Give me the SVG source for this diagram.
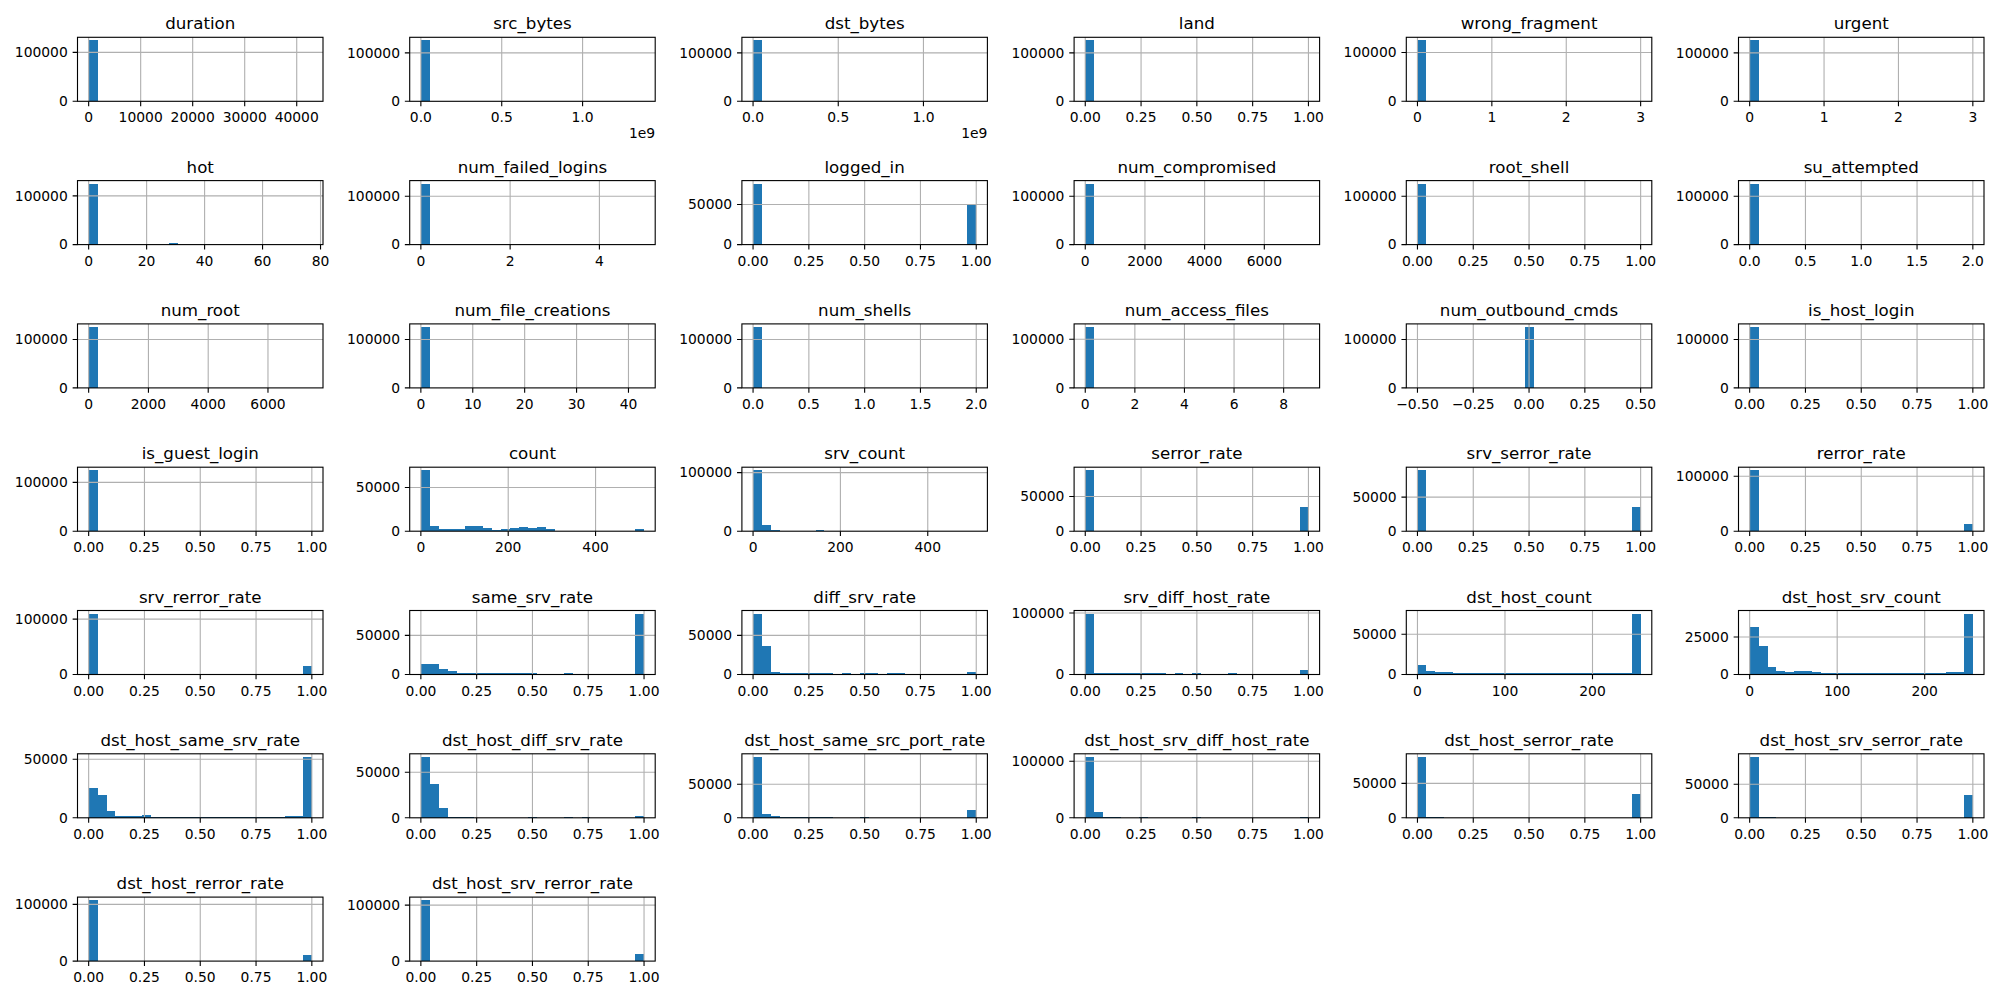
<svg xmlns="http://www.w3.org/2000/svg" xmlns:xlink="http://www.w3.org/1999/xlink" width="2000" height="1000" viewBox="0 0 2000 1000">
<style>
.b{fill:#1f77b4;shape-rendering:crispEdges}
.g{fill:none;stroke:#b0b0b0;stroke-width:1.11}
.f{fill:none;stroke:#000;stroke-width:1.11}
.k{fill:none;stroke:#000;stroke-width:1.11}
text{font-family:"DejaVu Sans","Liberation Sans",sans-serif;fill:#000}
.x{font-size:13.89px;text-anchor:middle}
.y{font-size:13.89px;text-anchor:end}
.t{font-size:16.67px;text-anchor:middle}
</style>
<defs>
<rect id="fr" class="f" width="245.5" height="64"/>
<g id="xr"><path class="g" d="M11.16 0V64M66.96 0V64M122.75 0V64M178.55 0V64M234.34 0V64"/><path class="k" d="M11.16 64v4.86M66.96 64v4.86M122.75 64v4.86M178.55 64v4.86M234.34 64v4.86"/></g>
<g id="x3"><path class="g" d="M11.16 0V64M85.55 0V64M159.95 0V64M234.34 0V64"/><path class="k" d="M11.16 64v4.86M85.55 64v4.86M159.95 64v4.86M234.34 64v4.86"/></g>
<g id="xc"><path class="g" d="M11.16 0V64M98.51 0V64M185.86 0V64"/><path class="k" d="M11.16 64v4.86M98.51 64v4.86M185.86 64v4.86"/></g>
<g id="xd"><path class="g" d="M11.16 0V64M98.68 0V64M186.2 0V64"/><path class="k" d="M11.16 64v4.86M98.68 64v4.86M186.2 64v4.86"/></g>
</defs>
<rect width="2000" height="1000" fill="#fff"/>

<g id="connectors"></g>

<!-- Row 0 -->
<g id="h-duration" transform="translate(77.5,37.3)">
<g class="b" transform="translate(11.16,64) scale(8.9272,-60.95)"><rect width="1" height="1"/></g>
<path class="g" d="M11.16 0V64M63.17 0V64M115.19 0V64M167.2 0V64M219.22 0V64M0 15.04H245.5"/>
<use href="#fr"/>
<path class="k" d="M11.16 64v4.86M63.17 64v4.86M115.19 64v4.86M167.2 64v4.86M219.22 64v4.86M-4.86 15.04H0M-4.86 64H0"/>
<text class="y" x="-9.72" y="19.84">100000</text><text class="y" x="-9.72" y="68.8">0</text>
<text class="x" x="11.16" y="85">0</text><text class="x" x="63.17" y="85">10000</text><text class="x" x="115.19" y="85">20000</text><text class="x" x="167.2" y="85">30000</text><text class="x" x="219.22" y="85">40000</text>
<text class="t" x="122.75" y="-8">duration</text>
</g>

<g id="h-src_bytes" transform="translate(409.7,37.3)">
<g class="b" transform="translate(11.16,64) scale(8.9272,-60.95)"><rect width="1" height="1"/></g>
<path class="g" d="M11.16 0V64M92.03 0V64M172.89 0V64M0 15.61H245.5"/>
<use href="#fr"/>
<path class="k" d="M11.16 64v4.86M92.03 64v4.86M172.89 64v4.86M-4.86 15.61H0M-4.86 64H0"/>
<text class="y" x="-9.72" y="20.41">100000</text><text class="y" x="-9.72" y="68.8">0</text>
<text class="x" x="11.16" y="85">0.0</text><text class="x" x="92.03" y="85">0.5</text><text class="x" x="172.89" y="85">1.0</text>
<text class="y" x="245.5" y="101">1e9</text>
<text class="t" x="122.75" y="-8">src_bytes</text>
</g>

<g id="h-dst_bytes" transform="translate(741.9,37.3)">
<g class="b" transform="translate(11.16,64) scale(8.9272,-60.95)"><rect width="1" height="1"/></g>
<path class="g" d="M11.16 0V64M96.35 0V64M181.54 0V64M0 15.61H245.5"/>
<use href="#fr"/>
<path class="k" d="M11.16 64v4.86M96.35 64v4.86M181.54 64v4.86M-4.86 15.61H0M-4.86 64H0"/>
<text class="y" x="-9.72" y="20.41">100000</text><text class="y" x="-9.72" y="68.8">0</text>
<text class="x" x="11.16" y="85">0.0</text><text class="x" x="96.35" y="85">0.5</text><text class="x" x="181.54" y="85">1.0</text>
<text class="y" x="245.5" y="101">1e9</text>
<text class="t" x="122.75" y="-8">dst_bytes</text>
</g>

<g id="h-land" transform="translate(1074.1,37.3)">
<g class="b" transform="translate(11.16,64) scale(8.9272,-60.95)"><rect width="1" height="1"/></g>
<use href="#xr"/><path class="g" d="M0 15.61H245.5"/>
<use href="#fr"/>
<path class="k" d="M-4.86 15.61H0M-4.86 64H0"/>
<text class="y" x="-9.72" y="20.41">100000</text><text class="y" x="-9.72" y="68.8">0</text>
<text class="x" x="11.16" y="85">0.00</text><text class="x" x="66.96" y="85">0.25</text><text class="x" x="122.75" y="85">0.50</text><text class="x" x="178.55" y="85">0.75</text><text class="x" x="234.34" y="85">1.00</text>
<text class="t" x="122.75" y="-8">land</text>
</g>

<g id="h-wrong_fragment" transform="translate(1406.3,37.3)">
<g class="b" transform="translate(11.16,64) scale(8.9272,-60.95)"><rect width="1" height="1"/></g>
<use href="#x3"/><path class="g" d="M0 15.24H245.5"/>
<use href="#fr"/>
<path class="k" d="M-4.86 15.24H0M-4.86 64H0"/>
<text class="y" x="-9.72" y="20.04">100000</text><text class="y" x="-9.72" y="68.8">0</text>
<text class="x" x="11.16" y="85">0</text><text class="x" x="85.55" y="85">1</text><text class="x" x="159.95" y="85">2</text><text class="x" x="234.34" y="85">3</text>
<text class="t" x="122.75" y="-8">wrong_fragment</text>
</g>

<g id="h-urgent" transform="translate(1738.5,37.3)">
<g class="b" transform="translate(11.16,64) scale(8.9272,-60.95)"><rect width="1" height="1"/></g>
<use href="#x3"/><path class="g" d="M0 15.61H245.5"/>
<use href="#fr"/>
<path class="k" d="M-4.86 15.61H0M-4.86 64H0"/>
<text class="y" x="-9.72" y="20.41">100000</text><text class="y" x="-9.72" y="68.8">0</text>
<text class="x" x="11.16" y="85">0</text><text class="x" x="85.55" y="85">1</text><text class="x" x="159.95" y="85">2</text><text class="x" x="234.34" y="85">3</text>
<text class="t" x="122.75" y="-8">urgent</text>
</g>

<!-- Row 1 -->
<g id="h-hot" transform="translate(77.5,180.6)">
<g class="b" transform="translate(11.16,64) scale(8.9272,-60.95)"><rect width="1" height="1"/><rect x="9" width="1" height="0.02"/></g>
<path class="g" d="M11.16 0V64M69.13 0V64M127.1 0V64M185.06 0V64M243.03 0V64M0 15.24H245.5"/>
<use href="#fr"/>
<path class="k" d="M11.16 64v4.86M69.13 64v4.86M127.1 64v4.86M185.06 64v4.86M243.03 64v4.86M-4.86 15.24H0M-4.86 64H0"/>
<text class="y" x="-9.72" y="20.04">100000</text><text class="y" x="-9.72" y="68.8">0</text>
<text class="x" x="11.16" y="85">0</text><text class="x" x="69.13" y="85">20</text><text class="x" x="127.1" y="85">40</text><text class="x" x="185.06" y="85">60</text><text class="x" x="243.03" y="85">80</text>
<text class="t" x="122.75" y="-8">hot</text>
</g>

<g id="h-num_failed_logins" transform="translate(409.7,180.6)">
<g class="b" transform="translate(11.16,64) scale(8.9272,-60.95)"><rect width="1" height="1"/></g>
<path class="g" d="M11.16 0V64M100.43 0V64M189.7 0V64M0 15.62H245.5"/>
<use href="#fr"/>
<path class="k" d="M11.16 64v4.86M100.43 64v4.86M189.7 64v4.86M-4.86 15.62H0M-4.86 64H0"/>
<text class="y" x="-9.72" y="20.42">100000</text><text class="y" x="-9.72" y="68.8">0</text>
<text class="x" x="11.16" y="85">0</text><text class="x" x="100.43" y="85">2</text><text class="x" x="189.7" y="85">4</text>
<text class="t" x="122.75" y="-8">num_failed_logins</text>
</g>

<g id="h-logged_in" transform="translate(741.9,180.6)">
<g class="b" transform="translate(11.16,64) scale(8.9272,-60.95)"><rect width="1" height="1"/><rect x="24" width="1" height="0.655"/></g>
<use href="#xr"/><path class="g" d="M0 23.96H245.5"/>
<use href="#fr"/>
<path class="k" d="M-4.86 23.96H0M-4.86 64H0"/>
<text class="y" x="-9.72" y="28.76">50000</text><text class="y" x="-9.72" y="68.8">0</text>
<text class="x" x="11.16" y="85">0.00</text><text class="x" x="66.96" y="85">0.25</text><text class="x" x="122.75" y="85">0.50</text><text class="x" x="178.55" y="85">0.75</text><text class="x" x="234.34" y="85">1.00</text>
<text class="t" x="122.75" y="-8">logged_in</text>
</g>

<g id="h-num_compromised" transform="translate(1074.1,180.6)">
<g class="b" transform="translate(11.16,64) scale(8.9272,-60.95)"><rect width="1" height="1"/></g>
<path class="g" d="M11.16 0V64M70.84 0V64M130.52 0V64M190.21 0V64M0 15.61H245.5"/>
<use href="#fr"/>
<path class="k" d="M11.16 64v4.86M70.84 64v4.86M130.52 64v4.86M190.21 64v4.86M-4.86 15.61H0M-4.86 64H0"/>
<text class="y" x="-9.72" y="20.41">100000</text><text class="y" x="-9.72" y="68.8">0</text>
<text class="x" x="11.16" y="85">0</text><text class="x" x="70.84" y="85">2000</text><text class="x" x="130.52" y="85">4000</text><text class="x" x="190.21" y="85">6000</text>
<text class="t" x="122.75" y="-8">num_compromised</text>
</g>

<g id="h-root_shell" transform="translate(1406.3,180.6)">
<g class="b" transform="translate(11.16,64) scale(8.9272,-60.95)"><rect width="1" height="1"/></g>
<use href="#xr"/><path class="g" d="M0 15.62H245.5"/>
<use href="#fr"/>
<path class="k" d="M-4.86 15.62H0M-4.86 64H0"/>
<text class="y" x="-9.72" y="20.42">100000</text><text class="y" x="-9.72" y="68.8">0</text>
<text class="x" x="11.16" y="85">0.00</text><text class="x" x="66.96" y="85">0.25</text><text class="x" x="122.75" y="85">0.50</text><text class="x" x="178.55" y="85">0.75</text><text class="x" x="234.34" y="85">1.00</text>
<text class="t" x="122.75" y="-8">root_shell</text>
</g>

<g id="h-su_attempted" transform="translate(1738.5,180.6)">
<g class="b" transform="translate(11.16,64) scale(8.9272,-60.95)"><rect width="1" height="1"/></g>
<use href="#xr"/><path class="g" d="M0 15.61H245.5"/>
<use href="#fr"/>
<path class="k" d="M-4.86 15.61H0M-4.86 64H0"/>
<text class="y" x="-9.72" y="20.41">100000</text><text class="y" x="-9.72" y="68.8">0</text>
<text class="x" x="11.16" y="85">0.0</text><text class="x" x="66.96" y="85">0.5</text><text class="x" x="122.75" y="85">1.0</text><text class="x" x="178.55" y="85">1.5</text><text class="x" x="234.34" y="85">2.0</text>
<text class="t" x="122.75" y="-8">su_attempted</text>
</g>

<!-- Row 2 -->
<g id="h-num_root" transform="translate(77.5,323.9)">
<g class="b" transform="translate(11.16,64) scale(8.9272,-60.95)"><rect width="1" height="1"/></g>
<path class="g" d="M11.16 0V64M70.93 0V64M130.7 0V64M190.47 0V64M0 15.61H245.5"/>
<use href="#fr"/>
<path class="k" d="M11.16 64v4.86M70.93 64v4.86M130.7 64v4.86M190.47 64v4.86M-4.86 15.61H0M-4.86 64H0"/>
<text class="y" x="-9.72" y="20.41">100000</text><text class="y" x="-9.72" y="68.8">0</text>
<text class="x" x="11.16" y="85">0</text><text class="x" x="70.93" y="85">2000</text><text class="x" x="130.7" y="85">4000</text><text class="x" x="190.47" y="85">6000</text>
<text class="t" x="122.75" y="-8">num_root</text>
</g>

<g id="h-num_file_creations" transform="translate(409.7,323.9)">
<g class="b" transform="translate(11.16,64) scale(8.9272,-60.95)"><rect width="1" height="1"/></g>
<path class="g" d="M11.16 0V64M63.06 0V64M114.96 0V64M166.87 0V64M218.77 0V64M0 15.61H245.5"/>
<use href="#fr"/>
<path class="k" d="M11.16 64v4.86M63.06 64v4.86M114.96 64v4.86M166.87 64v4.86M218.77 64v4.86M-4.86 15.61H0M-4.86 64H0"/>
<text class="y" x="-9.72" y="20.41">100000</text><text class="y" x="-9.72" y="68.8">0</text>
<text class="x" x="11.16" y="85">0</text><text class="x" x="63.06" y="85">10</text><text class="x" x="114.96" y="85">20</text><text class="x" x="166.87" y="85">30</text><text class="x" x="218.77" y="85">40</text>
<text class="t" x="122.75" y="-8">num_file_creations</text>
</g>

<g id="h-num_shells" transform="translate(741.9,323.9)">
<g class="b" transform="translate(11.16,64) scale(8.9272,-60.95)"><rect width="1" height="1"/></g>
<use href="#xr"/><path class="g" d="M0 15.61H245.5"/>
<use href="#fr"/>
<path class="k" d="M-4.86 15.61H0M-4.86 64H0"/>
<text class="y" x="-9.72" y="20.41">100000</text><text class="y" x="-9.72" y="68.8">0</text>
<text class="x" x="11.16" y="85">0.0</text><text class="x" x="66.96" y="85">0.5</text><text class="x" x="122.75" y="85">1.0</text><text class="x" x="178.55" y="85">1.5</text><text class="x" x="234.34" y="85">2.0</text>
<text class="t" x="122.75" y="-8">num_shells</text>
</g>

<g id="h-num_access_files" transform="translate(1074.1,323.9)">
<g class="b" transform="translate(11.16,64) scale(8.9272,-60.95)"><rect width="1" height="1"/></g>
<path class="g" d="M11.16 0V64M60.76 0V64M110.35 0V64M159.95 0V64M209.54 0V64M0 15.37H245.5"/>
<use href="#fr"/>
<path class="k" d="M11.16 64v4.86M60.76 64v4.86M110.35 64v4.86M159.95 64v4.86M209.54 64v4.86M-4.86 15.37H0M-4.86 64H0"/>
<text class="y" x="-9.72" y="20.17">100000</text><text class="y" x="-9.72" y="68.8">0</text>
<text class="x" x="11.16" y="85">0</text><text class="x" x="60.76" y="85">2</text><text class="x" x="110.35" y="85">4</text><text class="x" x="159.95" y="85">6</text><text class="x" x="209.54" y="85">8</text>
<text class="t" x="122.75" y="-8">num_access_files</text>
</g>

<g id="h-num_outbound_cmds" transform="translate(1406.3,323.9)">
<g class="b" transform="translate(11.16,64) scale(8.9272,-60.95)"><rect x="12" width="1" height="1"/></g>
<use href="#xr"/><path class="g" d="M0 15.61H245.5"/>
<use href="#fr"/>
<path class="k" d="M-4.86 15.61H0M-4.86 64H0"/>
<text class="y" x="-9.72" y="20.41">100000</text><text class="y" x="-9.72" y="68.8">0</text>
<text class="x" x="11.16" y="85">−0.50</text><text class="x" x="66.96" y="85">−0.25</text><text class="x" x="122.75" y="85">0.00</text><text class="x" x="178.55" y="85">0.25</text><text class="x" x="234.34" y="85">0.50</text>
<text class="t" x="122.75" y="-8">num_outbound_cmds</text>
</g>

<g id="h-is_host_login" transform="translate(1738.5,323.9)">
<g class="b" transform="translate(11.16,64) scale(8.9272,-60.95)"><rect width="1" height="1"/></g>
<use href="#xr"/><path class="g" d="M0 15.61H245.5"/>
<use href="#fr"/>
<path class="k" d="M-4.86 15.61H0M-4.86 64H0"/>
<text class="y" x="-9.72" y="20.41">100000</text><text class="y" x="-9.72" y="68.8">0</text>
<text class="x" x="11.16" y="85">0.00</text><text class="x" x="66.96" y="85">0.25</text><text class="x" x="122.75" y="85">0.50</text><text class="x" x="178.55" y="85">0.75</text><text class="x" x="234.34" y="85">1.00</text>
<text class="t" x="122.75" y="-8">is_host_login</text>
</g>

<!-- Row 3 -->
<g id="h-is_guest_login" transform="translate(77.5,467.2)">
<g class="b" transform="translate(11.16,64) scale(8.9272,-60.95)"><rect width="1" height="1"/><rect x="24" width="1" height="0.0095"/></g>
<use href="#xr"/><path class="g" d="M0 15.16H245.5"/>
<use href="#fr"/>
<path class="k" d="M-4.86 15.16H0M-4.86 64H0"/>
<text class="y" x="-9.72" y="19.96">100000</text><text class="y" x="-9.72" y="68.8">0</text>
<text class="x" x="11.16" y="85">0.00</text><text class="x" x="66.96" y="85">0.25</text><text class="x" x="122.75" y="85">0.50</text><text class="x" x="178.55" y="85">0.75</text><text class="x" x="234.34" y="85">1.00</text>
<text class="t" x="122.75" y="-8">is_guest_login</text>
</g>

<g id="h-count" transform="translate(409.7,467.2)">
<g class="b" transform="translate(11.16,64) scale(8.9272,-60.95)"><rect width="1" height="1"/><rect x="1" width="1" height="0.082"/><rect x="2" width="3" height="0.033"/><rect x="5" width="2" height="0.082"/><rect x="7" width="1" height="0.049"/><rect x="8" width="1" height="0.018"/><rect x="9" width="1" height="0.033"/><rect x="10" width="1" height="0.049"/><rect x="11" width="1" height="0.066"/><rect x="12" width="1" height="0.049"/><rect x="13" width="1" height="0.066"/><rect x="14" width="1" height="0.033"/><rect x="24" width="1" height="0.033"/></g>
<use href="#xc"/><path class="g" d="M0 20.28H245.5"/>
<use href="#fr"/>
<path class="k" d="M-4.86 20.28H0M-4.86 64H0"/>
<text class="y" x="-9.72" y="25.08">50000</text><text class="y" x="-9.72" y="68.8">0</text>
<text class="x" x="11.16" y="85">0</text><text class="x" x="98.51" y="85">200</text><text class="x" x="185.86" y="85">400</text>
<text class="t" x="122.75" y="-8">count</text>
</g>

<g id="h-srv_count" transform="translate(741.9,467.2)">
<g class="b" transform="translate(11.16,64) scale(8.9272,-60.95)"><rect width="1" height="1"/><rect x="1" width="1" height="0.098"/><rect x="2" width="1" height="0.022"/><rect x="3" width="1" height="0.006"/><rect x="7" width="1" height="0.022"/></g>
<use href="#xc"/><path class="g" d="M0 5.4H245.5"/>
<use href="#fr"/>
<path class="k" d="M-4.86 5.4H0M-4.86 64H0"/>
<text class="y" x="-9.72" y="10.2">100000</text><text class="y" x="-9.72" y="68.8">0</text>
<text class="x" x="11.16" y="85">0</text><text class="x" x="98.51" y="85">200</text><text class="x" x="185.86" y="85">400</text>
<text class="t" x="122.75" y="-8">srv_count</text>
</g>

<g id="h-serror_rate" transform="translate(1074.1,467.2)">
<g class="b" transform="translate(11.16,64) scale(8.9272,-60.95)"><rect width="1" height="1"/><rect x="24" width="1" height="0.394"/></g>
<use href="#xr"/><path class="g" d="M0 29.29H245.5"/>
<use href="#fr"/>
<path class="k" d="M-4.86 29.29H0M-4.86 64H0"/>
<text class="y" x="-9.72" y="34.09">50000</text><text class="y" x="-9.72" y="68.8">0</text>
<text class="x" x="11.16" y="85">0.00</text><text class="x" x="66.96" y="85">0.25</text><text class="x" x="122.75" y="85">0.50</text><text class="x" x="178.55" y="85">0.75</text><text class="x" x="234.34" y="85">1.00</text>
<text class="t" x="122.75" y="-8">serror_rate</text>
</g>

<g id="h-srv_serror_rate" transform="translate(1406.3,467.2)">
<g class="b" transform="translate(11.16,64) scale(8.9272,-60.95)"><rect width="1" height="1"/><rect x="24" width="1" height="0.397"/></g>
<use href="#xr"/><path class="g" d="M0 29.95H245.5"/>
<use href="#fr"/>
<path class="k" d="M-4.86 29.95H0M-4.86 64H0"/>
<text class="y" x="-9.72" y="34.75">50000</text><text class="y" x="-9.72" y="68.8">0</text>
<text class="x" x="11.16" y="85">0.00</text><text class="x" x="66.96" y="85">0.25</text><text class="x" x="122.75" y="85">0.50</text><text class="x" x="178.55" y="85">0.75</text><text class="x" x="234.34" y="85">1.00</text>
<text class="t" x="122.75" y="-8">srv_serror_rate</text>
</g>

<g id="h-rerror_rate" transform="translate(1738.5,467.2)">
<g class="b" transform="translate(11.16,64) scale(8.9272,-60.95)"><rect width="1" height="1"/><rect x="24" width="1" height="0.122"/></g>
<use href="#xr"/><path class="g" d="M0 9.09H245.5"/>
<use href="#fr"/>
<path class="k" d="M-4.86 9.09H0M-4.86 64H0"/>
<text class="y" x="-9.72" y="13.89">100000</text><text class="y" x="-9.72" y="68.8">0</text>
<text class="x" x="11.16" y="85">0.00</text><text class="x" x="66.96" y="85">0.25</text><text class="x" x="122.75" y="85">0.50</text><text class="x" x="178.55" y="85">0.75</text><text class="x" x="234.34" y="85">1.00</text>
<text class="t" x="122.75" y="-8">rerror_rate</text>
</g>

<!-- Row 4 -->
<g id="h-srv_rerror_rate" transform="translate(77.5,610.5)">
<g class="b" transform="translate(11.16,64) scale(8.9272,-60.95)"><rect width="1" height="1"/><rect x="24" width="1" height="0.136"/></g>
<use href="#xr"/><path class="g" d="M0 8.59H245.5"/>
<use href="#fr"/>
<path class="k" d="M-4.86 8.59H0M-4.86 64H0"/>
<text class="y" x="-9.72" y="13.39">100000</text><text class="y" x="-9.72" y="68.8">0</text>
<text class="x" x="11.16" y="85">0.00</text><text class="x" x="66.96" y="85">0.25</text><text class="x" x="122.75" y="85">0.50</text><text class="x" x="178.55" y="85">0.75</text><text class="x" x="234.34" y="85">1.00</text>
<text class="t" x="122.75" y="-8">srv_rerror_rate</text>
</g>

<g id="h-same_srv_rate" transform="translate(409.7,610.5)">
<g class="b" transform="translate(11.16,64) scale(8.9272,-60.95)"><rect width="2" height="0.172"/><rect x="2" width="1" height="0.09"/><rect x="3" width="1" height="0.057"/><rect x="4" width="1" height="0.025"/><rect x="5" width="7" height="0.017"/><rect x="12" width="1" height="0.025"/><rect x="16" width="1" height="0.017"/><rect x="24" width="1" height="1"/></g>
<use href="#xr"/><path class="g" d="M0 24.83H245.5"/>
<use href="#fr"/>
<path class="k" d="M-4.86 24.83H0M-4.86 64H0"/>
<text class="y" x="-9.72" y="29.63">50000</text><text class="y" x="-9.72" y="68.8">0</text>
<text class="x" x="11.16" y="85">0.00</text><text class="x" x="66.96" y="85">0.25</text><text class="x" x="122.75" y="85">0.50</text><text class="x" x="178.55" y="85">0.75</text><text class="x" x="234.34" y="85">1.00</text>
<text class="t" x="122.75" y="-8">same_srv_rate</text>
</g>

<g id="h-diff_srv_rate" transform="translate(741.9,610.5)">
<g class="b" transform="translate(11.16,64) scale(8.9272,-60.95)"><rect width="1" height="1"/><rect x="1" width="1" height="0.468"/><rect x="2" width="1" height="0.041"/><rect x="3" width="6" height="0.017"/><rect x="10" width="1" height="0.017"/><rect x="12" width="2" height="0.017"/><rect x="15" width="2" height="0.017"/><rect x="24" width="1" height="0.041"/></g>
<use href="#xr"/><path class="g" d="M0 24.83H245.5"/>
<use href="#fr"/>
<path class="k" d="M-4.86 24.83H0M-4.86 64H0"/>
<text class="y" x="-9.72" y="29.63">50000</text><text class="y" x="-9.72" y="68.8">0</text>
<text class="x" x="11.16" y="85">0.00</text><text class="x" x="66.96" y="85">0.25</text><text class="x" x="122.75" y="85">0.50</text><text class="x" x="178.55" y="85">0.75</text><text class="x" x="234.34" y="85">1.00</text>
<text class="t" x="122.75" y="-8">diff_srv_rate</text>
</g>

<g id="h-srv_diff_host_rate" transform="translate(1074.1,610.5)">
<g class="b" transform="translate(11.16,64) scale(8.9272,-60.95)"><rect width="1" height="1"/><rect x="1" width="1" height="0.017"/><rect x="2" width="2" height="0.026"/><rect x="4" width="5" height="0.017"/><rect x="10" width="1" height="0.017"/><rect x="12" width="1" height="0.017"/><rect x="16" width="1" height="0.017"/><rect x="24" width="1" height="0.074"/></g>
<use href="#xr"/><path class="g" d="M0 2.43H245.5"/>
<use href="#fr"/>
<path class="k" d="M-4.86 2.43H0M-4.86 64H0"/>
<text class="y" x="-9.72" y="7.23">100000</text><text class="y" x="-9.72" y="68.8">0</text>
<text class="x" x="11.16" y="85">0.00</text><text class="x" x="66.96" y="85">0.25</text><text class="x" x="122.75" y="85">0.50</text><text class="x" x="178.55" y="85">0.75</text><text class="x" x="234.34" y="85">1.00</text>
<text class="t" x="122.75" y="-8">srv_diff_host_rate</text>
</g>

<g id="h-dst_host_count" transform="translate(1406.3,610.5)">
<g class="b" transform="translate(11.16,64) scale(8.9272,-60.95)"><rect width="1" height="0.156"/><rect x="1" width="1" height="0.057"/><rect x="2" width="2" height="0.041"/><rect x="4" width="9" height="0.025"/><rect x="13" width="11" height="0.018"/><rect x="24" width="1" height="1"/></g>
<use href="#xd"/><path class="g" d="M0 23.8H245.5"/>
<use href="#fr"/>
<path class="k" d="M-4.86 23.8H0M-4.86 64H0"/>
<text class="y" x="-9.72" y="28.6">50000</text><text class="y" x="-9.72" y="68.8">0</text>
<text class="x" x="11.16" y="85">0</text><text class="x" x="98.68" y="85">100</text><text class="x" x="186.2" y="85">200</text>
<text class="t" x="122.75" y="-8">dst_host_count</text>
</g>

<g id="h-dst_host_srv_count" transform="translate(1738.5,610.5)">
<g class="b" transform="translate(11.16,64) scale(8.9272,-60.95)"><rect width="1" height="0.779"/><rect x="1" width="1" height="0.468"/><rect x="2" width="1" height="0.123"/><rect x="3" width="1" height="0.057"/><rect x="4" width="1" height="0.041"/><rect x="5" width="2" height="0.057"/><rect x="7" width="1" height="0.041"/><rect x="8" width="14" height="0.025"/><rect x="22" width="2" height="0.041"/><rect x="24" width="1" height="1"/></g>
<use href="#xd"/><path class="g" d="M0 26.47H245.5"/>
<use href="#fr"/>
<path class="k" d="M-4.86 26.47H0M-4.86 64H0"/>
<text class="y" x="-9.72" y="31.27">25000</text><text class="y" x="-9.72" y="68.8">0</text>
<text class="x" x="11.16" y="85">0</text><text class="x" x="98.68" y="85">100</text><text class="x" x="186.2" y="85">200</text>
<text class="t" x="122.75" y="-8">dst_host_srv_count</text>
</g>

<!-- Row 5 -->
<g id="h-dst_host_same_srv_rate" transform="translate(77.5,753.8)">
<g class="b" transform="translate(11.16,64) scale(8.9272,-60.95)"><rect width="1" height="0.489"/><rect x="1" width="1" height="0.374"/><rect x="2" width="1" height="0.112"/><rect x="3" width="3" height="0.03"/><rect x="6" width="1" height="0.046"/><rect x="7" width="15" height="0.017"/><rect x="22" width="2" height="0.03"/><rect x="24" width="1" height="1"/></g>
<use href="#xr"/><path class="g" d="M0 5.51H245.5"/>
<use href="#fr"/>
<path class="k" d="M-4.86 5.51H0M-4.86 64H0"/>
<text class="y" x="-9.72" y="10.31">50000</text><text class="y" x="-9.72" y="68.8">0</text>
<text class="x" x="11.16" y="85">0.00</text><text class="x" x="66.96" y="85">0.25</text><text class="x" x="122.75" y="85">0.50</text><text class="x" x="178.55" y="85">0.75</text><text class="x" x="234.34" y="85">1.00</text>
<text class="t" x="122.75" y="-8">dst_host_same_srv_rate</text>
</g>

<g id="h-dst_host_diff_srv_rate" transform="translate(409.7,753.8)">
<g class="b" transform="translate(11.16,64) scale(8.9272,-60.95)"><rect width="1" height="1"/><rect x="1" width="1" height="0.555"/><rect x="2" width="1" height="0.161"/><rect x="3" width="3" height="0.017"/><rect x="12" width="1" height="0.017"/><rect x="16" width="1" height="0.017"/><rect x="18" width="1" height="0.017"/><rect x="24" width="1" height="0.03"/></g>
<use href="#xr"/><path class="g" d="M0 18.51H245.5"/>
<use href="#fr"/>
<path class="k" d="M-4.86 18.51H0M-4.86 64H0"/>
<text class="y" x="-9.72" y="23.31">50000</text><text class="y" x="-9.72" y="68.8">0</text>
<text class="x" x="11.16" y="85">0.00</text><text class="x" x="66.96" y="85">0.25</text><text class="x" x="122.75" y="85">0.50</text><text class="x" x="178.55" y="85">0.75</text><text class="x" x="234.34" y="85">1.00</text>
<text class="t" x="122.75" y="-8">dst_host_diff_srv_rate</text>
</g>

<g id="h-dst_host_same_src_port_rate" transform="translate(741.9,753.8)">
<g class="b" transform="translate(11.16,64) scale(8.9272,-60.95)"><rect width="1" height="1"/><rect x="1" width="1" height="0.062"/><rect x="2" width="1" height="0.03"/><rect x="3" width="6" height="0.017"/><rect x="12" width="1" height="0.017"/><rect x="24" width="1" height="0.128"/></g>
<use href="#xr"/><path class="g" d="M0 30.51H245.5"/>
<use href="#fr"/>
<path class="k" d="M-4.86 30.51H0M-4.86 64H0"/>
<text class="y" x="-9.72" y="35.31">50000</text><text class="y" x="-9.72" y="68.8">0</text>
<text class="x" x="11.16" y="85">0.00</text><text class="x" x="66.96" y="85">0.25</text><text class="x" x="122.75" y="85">0.50</text><text class="x" x="178.55" y="85">0.75</text><text class="x" x="234.34" y="85">1.00</text>
<text class="t" x="122.75" y="-8">dst_host_same_src_port_rate</text>
</g>

<g id="h-dst_host_srv_diff_host_rate" transform="translate(1074.1,753.8)">
<g class="b" transform="translate(11.16,64) scale(8.9272,-60.95)"><rect width="1" height="1"/><rect x="1" width="1" height="0.095"/><rect x="2" width="2" height="0.017"/><rect x="6" width="1" height="0.017"/><rect x="12" width="1" height="0.017"/><rect x="24" width="1" height="0.006"/></g>
<use href="#xr"/><path class="g" d="M0 7.51H245.5"/>
<use href="#fr"/>
<path class="k" d="M-4.86 7.51H0M-4.86 64H0"/>
<text class="y" x="-9.72" y="12.31">100000</text><text class="y" x="-9.72" y="68.8">0</text>
<text class="x" x="11.16" y="85">0.00</text><text class="x" x="66.96" y="85">0.25</text><text class="x" x="122.75" y="85">0.50</text><text class="x" x="178.55" y="85">0.75</text><text class="x" x="234.34" y="85">1.00</text>
<text class="t" x="122.75" y="-8">dst_host_srv_diff_host_rate</text>
</g>

<g id="h-dst_host_serror_rate" transform="translate(1406.3,753.8)">
<g class="b" transform="translate(11.16,64) scale(8.9272,-60.95)"><rect width="1" height="1"/><rect x="1" width="2" height="0.018"/><rect x="24" width="1" height="0.39"/></g>
<use href="#xr"/><path class="g" d="M0 29.53H245.5"/>
<use href="#fr"/>
<path class="k" d="M-4.86 29.53H0M-4.86 64H0"/>
<text class="y" x="-9.72" y="34.33">50000</text><text class="y" x="-9.72" y="68.8">0</text>
<text class="x" x="11.16" y="85">0.00</text><text class="x" x="66.96" y="85">0.25</text><text class="x" x="122.75" y="85">0.50</text><text class="x" x="178.55" y="85">0.75</text><text class="x" x="234.34" y="85">1.00</text>
<text class="t" x="122.75" y="-8">dst_host_serror_rate</text>
</g>

<g id="h-dst_host_srv_serror_rate" transform="translate(1738.5,753.8)">
<g class="b" transform="translate(11.16,64) scale(8.9272,-60.95)"><rect width="1" height="1"/><rect x="1" width="2" height="0.007"/><rect x="24" width="1" height="0.374"/></g>
<use href="#xr"/><path class="g" d="M0 30.51H245.5"/>
<use href="#fr"/>
<path class="k" d="M-4.86 30.51H0M-4.86 64H0"/>
<text class="y" x="-9.72" y="35.31">50000</text><text class="y" x="-9.72" y="68.8">0</text>
<text class="x" x="11.16" y="85">0.00</text><text class="x" x="66.96" y="85">0.25</text><text class="x" x="122.75" y="85">0.50</text><text class="x" x="178.55" y="85">0.75</text><text class="x" x="234.34" y="85">1.00</text>
<text class="t" x="122.75" y="-8">dst_host_srv_serror_rate</text>
</g>

<!-- Row 6 -->
<g id="h-dst_host_rerror_rate" transform="translate(77.5,897.1)">
<g class="b" transform="translate(11.16,64) scale(8.9272,-60.95)"><rect width="1" height="1"/><rect x="24" width="1" height="0.0986"/></g>
<use href="#xr"/><path class="g" d="M0 7.3H245.5"/>
<use href="#fr"/>
<path class="k" d="M-4.86 7.3H0M-4.86 64H0"/>
<text class="y" x="-9.72" y="12.1">100000</text><text class="y" x="-9.72" y="68.8">0</text>
<text class="x" x="11.16" y="85">0.00</text><text class="x" x="66.96" y="85">0.25</text><text class="x" x="122.75" y="85">0.50</text><text class="x" x="178.55" y="85">0.75</text><text class="x" x="234.34" y="85">1.00</text>
<text class="t" x="122.75" y="-8">dst_host_rerror_rate</text>
</g>

<g id="h-dst_host_srv_rerror_rate" transform="translate(409.7,897.1)">
<g class="b" transform="translate(11.16,64) scale(8.9272,-60.95)"><rect width="1" height="1"/><rect x="24" width="1" height="0.115"/></g>
<use href="#xr"/><path class="g" d="M0 7.98H245.5"/>
<use href="#fr"/>
<path class="k" d="M-4.86 7.98H0M-4.86 64H0"/>
<text class="y" x="-9.72" y="12.78">100000</text><text class="y" x="-9.72" y="68.8">0</text>
<text class="x" x="11.16" y="85">0.00</text><text class="x" x="66.96" y="85">0.25</text><text class="x" x="122.75" y="85">0.50</text><text class="x" x="178.55" y="85">0.75</text><text class="x" x="234.34" y="85">1.00</text>
<text class="t" x="122.75" y="-8">dst_host_srv_rerror_rate</text>
</g>
</svg>
